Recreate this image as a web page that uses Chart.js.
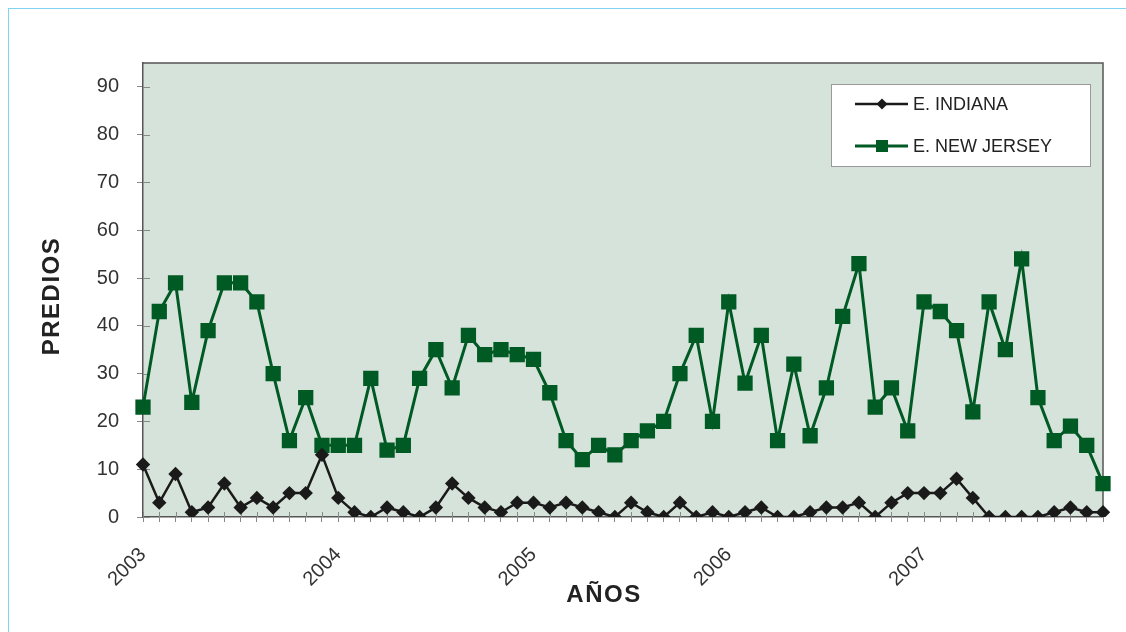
<!DOCTYPE html>
<html>
<head>
<meta charset="utf-8">
<script src="https://cdn.jsdelivr.net/npm/chart.js@4/dist/chart.umd.min.js"></script>
<style>
  body { margin: 0; background: #fff; }
  #wrap { position: relative; width: 1126px; height: 632px; overflow: hidden; }
  #frame { position: absolute; left: 8px; top: 8px; width: 1200px; height: 700px;
           border-top: 1.5px solid #7fd4f3; border-left: 1.5px solid #7fd4f3; }
  #chart { position: absolute; left: 0; top: 0; }
</style>
</head>
<body>
<div id="wrap">
  <div id="frame"></div>
  <canvas id="chart" width="1126" height="632"></canvas>
</div>
<script>
// años del eje x (una etiqueta cada 12 meses)
const years = ["2003", "2004", "2005", "2006", "2007"];
// un punto por mes
const months = years.flatMap(y => ["01","02","03","04","05","06","07","08","09","10","11","12"].map(m => y + "-" + m));

const indiana = [11,3,9,1,2,7,2,4,2,5,5,13, 4,1,0,2,1,0,2,7,4,2,1,3,
                 3,2,3,2,1,0,3,1,0,3,0,1, 0,1,2,0,0,1,2,2,3,0,3,5,
                 5,5,8,4,0,0,0,0,1,2,1,1];
const newJersey = [23,43,49,24,39,49,49,45,30,16,25,15, 15,15,29,14,15,29,35,27,38,34,35,34,
                   33,26,16,12,15,13,16,18,20,30,38,20, 45,28,38,16,32,17,27,42,53,23,27,18,
                   45,43,39,22,45,35,54,25,16,19,15,7];

const seriesNames = ["E. INDIANA", "E. NEW JERSEY"];
const xTitle = "AÑOS";
const yTitle = "PREDIOS";

const FONT = "'Liberation Sans', Arial, sans-serif";
const GREEN = "#005a24";
const BLACK = "#1a1a1a";

// fondo del área de trazado y borde superior/derecho
const plotBox = {
  id: "plotBox",
  beforeDraw(chart) {
    const {ctx, chartArea: a} = chart;
    ctx.save();
    ctx.fillStyle = "#d6e3da";
    ctx.fillRect(a.left, a.top, a.right - a.left, a.bottom - a.top);
    ctx.restore();
  },
  beforeDatasetsDraw(chart) {
    const {ctx, chartArea: a} = chart;
    ctx.save();
    ctx.strokeStyle = "#555";
    ctx.lineWidth = 1.5;
    ctx.beginPath();
    ctx.moveTo(a.left, a.top);
    ctx.lineTo(a.right, a.top);
    ctx.lineTo(a.right, a.bottom);
    ctx.stroke();
    // parte interior de las marcas (cruzan el eje)
    ctx.strokeStyle = "#888";
    ctx.lineWidth = 1;
    const xs = chart.scales.x, ys = chart.scales.y;
    ctx.beginPath();
    xs.ticks.forEach((t, i) => {
      const px = Math.round(xs.getPixelForTick(i)) + 0.5;
      ctx.moveTo(px, a.bottom);
      ctx.lineTo(px, a.bottom - 5);
    });
    ys.ticks.forEach((t, i) => {
      const py = Math.round(ys.getPixelForTick(i)) + 0.5;
      ctx.moveTo(a.left, py);
      ctx.lineTo(a.left + 7, py);
    });
    ctx.stroke();
    ctx.restore();
  }
};

// títulos de ejes y leyenda
const extras = {
  id: "extras",
  afterDraw(chart) {
    const {ctx} = chart;
    ctx.save();
    ctx.fillStyle = "#222";
    ctx.font = "bold 24px " + FONT;
    ctx.letterSpacing = "1.5px";
    ctx.textAlign = "center";
    ctx.textBaseline = "middle";
    ctx.fillText(xTitle, 604, 595);
    ctx.translate(52, 296);
    ctx.rotate(-Math.PI / 2);
    ctx.fillText(yTitle, 0, 0);
    ctx.restore();

    // leyenda
    ctx.save();
    ctx.fillStyle = "#fff";
    ctx.fillRect(831, 84, 259, 82);
    ctx.strokeStyle = "#999";
    ctx.lineWidth = 1;
    ctx.strokeRect(831.5, 84.5, 259, 82);
    const rows = [104, 146];
    chart.data.datasets.forEach((ds, i) => {
      const y = rows[i];
      ctx.strokeStyle = ds.borderColor;
      ctx.lineWidth = ds.borderWidth;
      ctx.beginPath();
      ctx.moveTo(855, y);
      ctx.lineTo(908, y);
      ctx.stroke();
      ctx.fillStyle = ds.backgroundColor;
      if (ds.pointStyle === "rectRot") {
        ctx.beginPath();
        ctx.moveTo(882 - 5.5, y);
        ctx.lineTo(882, y - 5.5);
        ctx.lineTo(882 + 5.5, y);
        ctx.lineTo(882, y + 5.5);
        ctx.closePath();
        ctx.fill();
      } else {
        ctx.fillRect(882 - 6, y - 6, 12, 12);
      }
      ctx.fillStyle = "#222";
      ctx.font = "18px " + FONT;
      ctx.textAlign = "left";
      ctx.textBaseline = "middle";
      ctx.fillText(ds.label, 913, y + 1);
    });
    ctx.restore();
  }
};

new Chart(document.getElementById("chart"), {
  type: "line",
  data: {
    labels: months,
    datasets: [
      {
        label: seriesNames[0],
        data: indiana,
        borderColor: BLACK,
        backgroundColor: BLACK,
        borderWidth: 2.5,
        pointStyle: "rectRot",
        pointRadius: 7.2,
        pointBorderWidth: 0,
        tension: 0
      },
      {
        label: seriesNames[1],
        data: newJersey,
        borderColor: GREEN,
        backgroundColor: GREEN,
        borderWidth: 3,
        pointStyle: "rect",
        pointRadius: 10.8,
        pointBorderWidth: 0,
        tension: 0
      }
    ]
  },
  options: {
    responsive: false,
    animation: false,
    layout: { padding: { top: 63, right: 23, left: 0, bottom: 0 } },
    plugins: {
      legend: { display: false },
      tooltip: { enabled: false }
    },
    scales: {
      x: {
        offset: false,
        afterFit(scale) {
          scale.height = 115;
          scale.paddingLeft = 0;
          scale.paddingRight = 0;
        },
        grid: { display: true, drawOnChartArea: false, drawTicks: true, tickLength: 5, color: "#888" },
        border: { display: true, color: "#555", width: 1.5 },
        ticks: {
          autoSkip: false,
          minRotation: 45,
          maxRotation: 45,
          padding: 21,
          color: "#333",
          font: { family: FONT, size: 20 },
          callback: (v, i) => (i % 12 === 0 ? years[i / 12] : "")
        }
      },
      y: {
        min: 0,
        max: 95,
        afterFit(scale) { scale.width = 143; },
        afterBuildTicks(scale) { scale.ticks = scale.ticks.filter(t => t.value % 10 === 0); },
        grid: { display: true, drawOnChartArea: false, drawTicks: true, tickLength: 6, color: "#888" },
        border: { display: true, color: "#555", width: 1.5 },
        ticks: {
          stepSize: 10,
          padding: 18,
          color: "#333",
          font: { family: FONT, size: 20 }
        }
      }
    }
  },
  plugins: [plotBox, extras]
});
</script>
</body>
</html>
